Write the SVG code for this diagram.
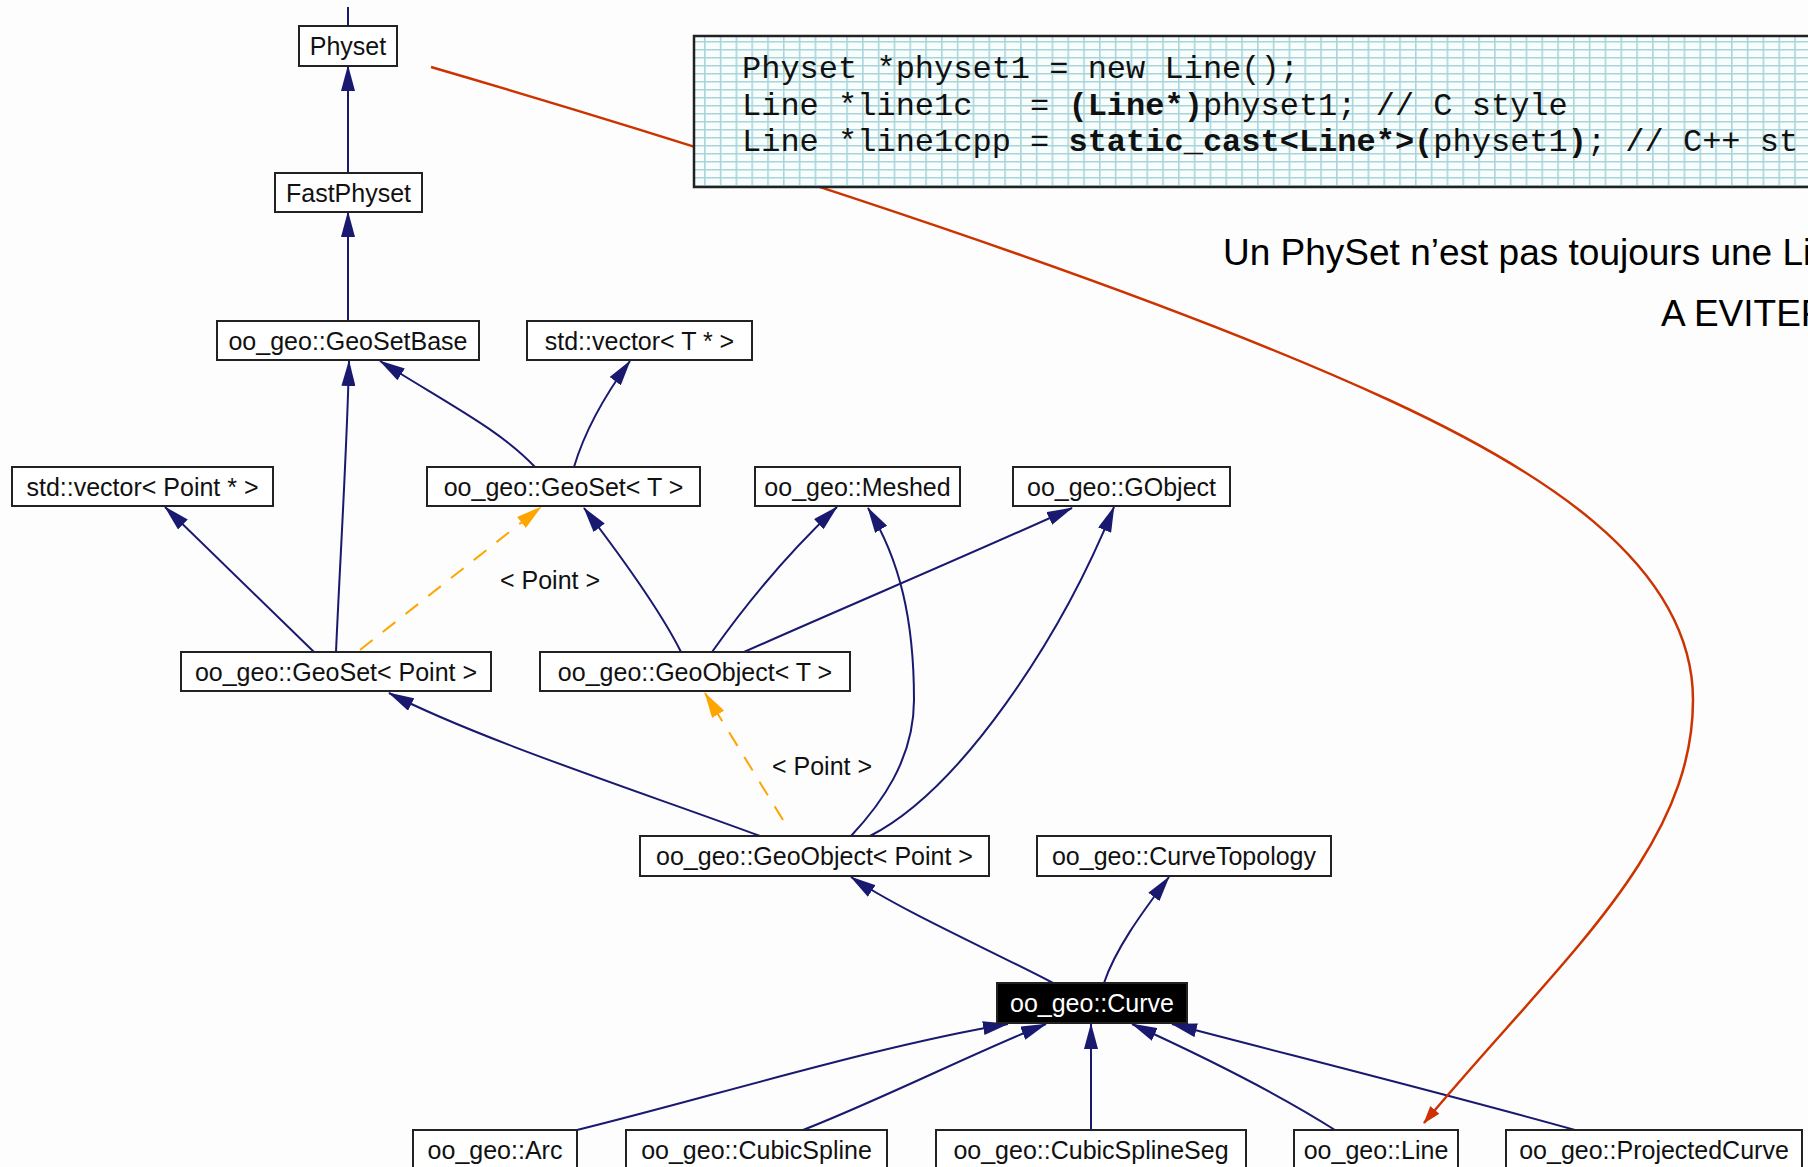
<svg xmlns="http://www.w3.org/2000/svg" width="1808" height="1167" viewBox="0 0 1808 1167">
<defs>
<style>
.n rect{fill:#fff;stroke:#222;stroke-width:2}
.n text{font-family:"Liberation Sans",Arial,sans-serif;font-size:25px;fill:#111;text-anchor:middle}
#curve rect{fill:#000}
#curve text{fill:#fff}
.e{fill:none;stroke:#191970;stroke-width:2}
.d{fill:none;stroke:#FFA500;stroke-width:2;stroke-dasharray:16 13}
.r{fill:none;stroke:#CC3300;stroke-width:2.5}
.lbl{font-family:"Liberation Sans",Arial,sans-serif;font-size:25px;fill:#111;text-anchor:middle}
.code{font-family:"Liberation Mono","Courier New",monospace;font-size:32px;fill:#111}
.note{font-family:"Liberation Sans",Arial,sans-serif;font-size:37px;fill:#000}
</style>
<marker id="ab" viewBox="0 0 26 14" markerWidth="26" markerHeight="14" refX="25" refY="7" orient="auto" markerUnits="userSpaceOnUse"><path d="M0,0 L26,7 L0,14 Z" fill="#191970"/></marker>
<marker id="ao" viewBox="0 0 26 14" markerWidth="26" markerHeight="14" refX="25" refY="7" orient="auto" markerUnits="userSpaceOnUse"><path d="M0,0 L26,7 L0,14 Z" fill="#FFA500"/></marker>
<marker id="ar" viewBox="0 0 18 12" markerWidth="18" markerHeight="12" refX="17" refY="6" orient="auto" markerUnits="userSpaceOnUse"><path d="M0,0 L18,6 L0,12 Z" fill="#CC3300"/></marker>
<pattern id="grid" x="704" y="41" width="15.8" height="8" patternUnits="userSpaceOnUse"><rect width="15.8" height="8" fill="#F8FDFD"/><path d="M0,0.8 H15.8 M0.8,0 V8" stroke="#A9D5DA" stroke-width="1.6" fill="none"/></pattern>
</defs>
<rect width="1808" height="1167" fill="#FDFDFD"/>

<g id="connectors">
<path class="e" d="M348,7 L348,26"/>
<path class="e" d="M348,173 L348,66" marker-end="url(#ab)"/>
<path class="e" d="M348,321 L348,212" marker-end="url(#ab)"/>
<path class="e" d="M336,652 C340,560 347,450 349,361" marker-end="url(#ab)"/>
<path class="e" d="M535,467 C500,430 450,405 380,361" marker-end="url(#ab)"/>
<path class="e" d="M574,467 C585,430 605,395 630,361" marker-end="url(#ab)"/>
<path class="e" d="M314,652 L165,507" marker-end="url(#ab)"/>
<path class="d" d="M360,650 L541,507" marker-end="url(#ao)"/>
<path class="e" d="M681,652 C660,610 620,555 584,508" marker-end="url(#ab)"/>
<path class="e" d="M712,652 Q770,570 837,507" marker-end="url(#ab)"/>
<path class="e" d="M744,652 C850,605 980,550 1072,508" marker-end="url(#ab)"/>
<path class="e" d="M760,836 C650,795 480,740 389,693" marker-end="url(#ab)"/>
<path class="d" d="M783,820 L705,693" marker-end="url(#ao)"/>
<path class="e" d="M851,836 C880,805 914,760 914,700 C914,620 900,560 868,508" marker-end="url(#ab)"/>
<path class="e" d="M870,836 C960,790 1060,640 1114,507" marker-end="url(#ab)"/>
<path class="e" d="M1053,983 C990,950 900,910 851,877" marker-end="url(#ab)"/>
<path class="e" d="M1104,983 C1115,950 1140,915 1169,877" marker-end="url(#ab)"/>
<path class="e" d="M577,1130 C700,1100 880,1045 1008,1024" marker-end="url(#ab)"/>
<path class="e" d="M803,1130 C880,1100 980,1050 1046,1024" marker-end="url(#ab)"/>
<path class="e" d="M1091,1130 L1091,1024" marker-end="url(#ab)"/>
<path class="e" d="M1335,1130 C1280,1095 1200,1055 1132,1024" marker-end="url(#ab)"/>
<path class="e" d="M1575,1130 C1450,1095 1290,1055 1172,1024" marker-end="url(#ab)"/>
<path class="r" d="M431,67 C750,160 1150,290 1389,400 C1530,465 1693,560 1693,700 C1693,850 1560,960 1424,1123" marker-end="url(#ar)"/>
<text class="lbl" x="550" y="589">&lt; Point &gt;</text>
<text class="lbl" x="822" y="775">&lt; Point &gt;</text>
</g>

<g id="physet" class="n"><rect x="299" y="26" width="98" height="40"/><text x="348" y="55">Physet</text></g>
<g id="fastphyset" class="n"><rect x="275" y="173" width="147" height="39"/><text x="348.5" y="202">FastPhyset</text></g>
<g id="geosetbase" class="n"><rect x="217" y="321" width="262" height="39"/><text x="348" y="350">oo_geo::GeoSetBase</text></g>
<g id="vectorT" class="n"><rect x="527" y="321" width="225" height="39"/><text x="639.5" y="350">std::vector&lt; T * &gt;</text></g>
<g id="vectorPoint" class="n"><rect x="12" y="467" width="261" height="39"/><text x="142.5" y="496">std::vector&lt; Point * &gt;</text></g>
<g id="geosetT" class="n"><rect x="427" y="467" width="273" height="39"/><text x="563.5" y="496">oo_geo::GeoSet&lt; T &gt;</text></g>
<g id="meshed" class="n"><rect x="755" y="467" width="205" height="39"/><text x="857.5" y="496">oo_geo::Meshed</text></g>
<g id="gobject" class="n"><rect x="1013" y="467" width="217" height="39"/><text x="1121.5" y="496">oo_geo::GObject</text></g>
<g id="geosetPoint" class="n"><rect x="181" y="652" width="310" height="39"/><text x="336" y="681">oo_geo::GeoSet&lt; Point &gt;</text></g>
<g id="geoobjectT" class="n"><rect x="540" y="652" width="310" height="39"/><text x="695" y="681">oo_geo::GeoObject&lt; T &gt;</text></g>
<g id="geoobjectPoint" class="n"><rect x="640" y="836" width="349" height="40"/><text x="814.5" y="865">oo_geo::GeoObject&lt; Point &gt;</text></g>
<g id="curvetopology" class="n"><rect x="1037" y="836" width="294" height="40"/><text x="1184" y="865">oo_geo::CurveTopology</text></g>
<g id="curve" class="n"><rect x="997" y="983" width="190" height="40"/><text x="1092" y="1012">oo_geo::Curve</text></g>
<g id="arc" class="n"><rect x="413" y="1130" width="164" height="42"/><text x="495" y="1159">oo_geo::Arc</text></g>
<g id="cubicspline" class="n"><rect x="626" y="1130" width="261" height="42"/><text x="756.5" y="1159">oo_geo::CubicSpline</text></g>
<g id="cubicsplineseg" class="n"><rect x="936" y="1130" width="310" height="42"/><text x="1091" y="1159">oo_geo::CubicSplineSeg</text></g>
<g id="line" class="n"><rect x="1294" y="1130" width="164" height="42"/><text x="1376" y="1159">oo_geo::Line</text></g>
<g id="projectedcurve" class="n"><rect x="1506" y="1130" width="296" height="42"/><text x="1654" y="1159">oo_geo::ProjectedCurve</text></g>

<g id="codebox">
<rect x="694" y="36" width="1130" height="151" fill="url(#grid)" stroke="#222" stroke-width="2.5"/>
<text class="code" x="742" y="78" xml:space="preserve">Physet *physet1 = new Line();</text>
<text class="code" x="742" y="114.5" xml:space="preserve">Line *line1c   = <tspan font-weight="bold">(Line*)</tspan>physet1; // C style</text>
<text class="code" x="742" y="151" xml:space="preserve">Line *line1cpp = <tspan font-weight="bold">static_cast&lt;Line*&gt;(</tspan>physet1<tspan font-weight="bold">)</tspan>; // C++ st</text>
</g>

<g id="notes">
<text class="note" x="1223" y="265">Un PhySet n’est pas toujours une Li</text>
<text class="note" x="1661" y="326">A EVITER</text>
</g>
</svg>
